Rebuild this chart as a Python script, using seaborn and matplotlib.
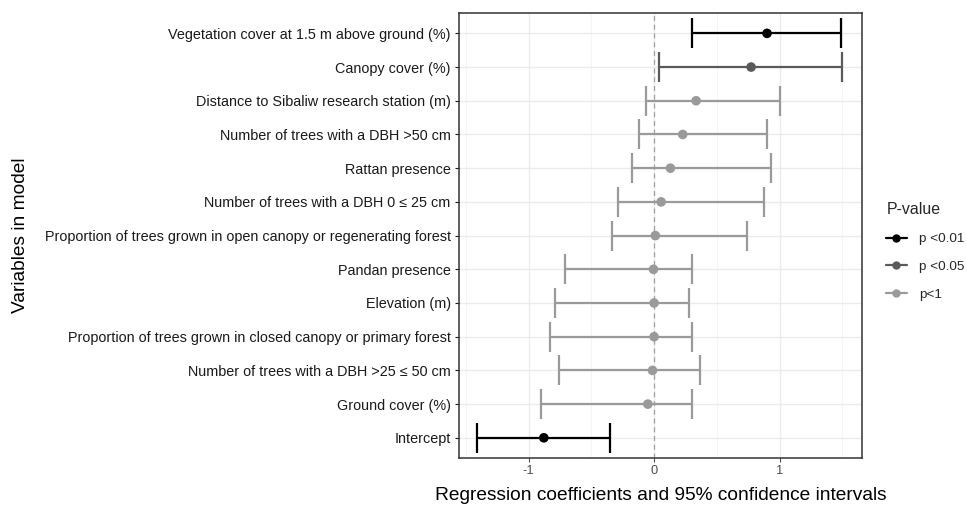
import numpy as np
import pandas as pd
import matplotlib
matplotlib.use("Agg")
import matplotlib.pyplot as plt
import seaborn as sns
from matplotlib.lines import Line2D

# --- data (top to bottom as drawn) ---
variables = [
    "Vegetation cover at 1.5 m above ground (%)",
    "Canopy cover (%)",
    "Distance to Sibaliw research station (m)",
    "Number of trees with a DBH >50 cm",
    "Rattan presence",
    "Number of trees with a DBH 0 \u2264 25 cm",
    "Proportion of trees grown in open canopy or regenerating forest",
    "Pandan presence",
    "Elevation (m)",
    "Proportion of trees grown in closed canopy or primary forest",
    "Number of trees with a DBH >25 \u2264 50 cm",
    "Ground cover (%)",
    "Intercept",
]
coef = [0.90, 0.773, 0.335, 0.228, 0.13, 0.056, 0.01, -0.005, 0.0, 0.0, -0.013, -0.05, -0.879]
ci_low = [0.305, 0.042, -0.064, -0.12, -0.18, -0.287, -0.332, -0.71, -0.79, -0.83, -0.757, -0.903, -1.413]
ci_high = [1.49, 1.50, 1.004, 0.898, 0.932, 0.879, 0.741, 0.305, 0.276, 0.305, 0.367, 0.305, -0.353]
pvalue = ["p <0.01", "p <0.05"] + ["p<1"] * 10 + ["p <0.01"]

levels = ["p <0.01", "p <0.05", "p<1"]
colors = {"p <0.01": "#000000", "p <0.05": "#5a5a5a", "p<1": "#9a9a9a"}

df = pd.DataFrame({"variable": variables, "coef": coef, "lo": ci_low,
                   "hi": ci_high, "pval": pvalue})
df["pos"] = np.arange(len(df))[::-1]

sns.set_theme(style="whitegrid")
plt.rcParams["font.family"] = ["Liberation Sans", "DejaVu Sans"]

fig = plt.figure(figsize=(9.67, 5.05), dpi=100)
ax = fig.add_axes([0.4747, 0.093, 0.4167, 0.881])

# reference line at zero
ax.axvline(0, color="#a0a0a0", linestyle=(0, (4, 3)), linewidth=0.9, zorder=1)

# confidence intervals
for lvl in levels:
    sub = df[df["pval"] == lvl]
    ax.errorbar(sub["coef"], sub["pos"],
                xerr=[sub["coef"] - sub["lo"], sub["hi"] - sub["coef"]],
                fmt="none", ecolor=colors[lvl], elinewidth=1.6,
                capsize=10.5, capthick=1.6, zorder=2)

sns.scatterplot(data=df, x="coef", y="pos", hue="pval", hue_order=levels,
                palette=colors, s=48, edgecolor="none", legend=False,
                ax=ax, zorder=3)

ax.set_xlim(-1.555, 1.657)
ax.set_ylim(-0.6, len(df) - 0.4)
ax.set_xticks([-1, 0, 1])
ax.set_xticklabels(["-1", "0", "1"])
ax.set_xticks([-1.5, -0.5, 0.5, 1.5], minor=True)
ax.set_yticks(df["pos"])
ax.set_yticklabels(df["variable"])

ax.grid(True, which="major", color="#ebebeb", linewidth=1.0)
ax.grid(True, which="minor", axis="x", color="#f2f2f2", linewidth=0.6)
ax.set_axisbelow(True)
for sp in ax.spines.values():
    sp.set_color("#333333")
    sp.set_linewidth(1.1)

ax.tick_params(axis="y", which="major", labelsize=10.4, colors="#1a1a1a",
               length=3, width=0.8, left=True, pad=3)
ax.tick_params(axis="x", which="major", labelsize=9.3, colors="#4d4d4d",
               length=3, width=0.8, bottom=True, pad=2)
ax.tick_params(axis="x", which="minor", length=0)
for t in ax.get_yticklabels():
    t.set_color("#1a1a1a")
for t in ax.get_xticklabels():
    t.set_color("#4d4d4d")

ax.set_xlabel("Regression coefficients and 95% confidence intervals",
              fontsize=13.8, color="black", labelpad=7)
ax.set_ylabel("")
fig.text(0.021, 0.535, "Variables in model", rotation=90, fontsize=13.8,
         color="black", ha="center", va="center")

handles = [Line2D([0], [0], color=colors[l], marker="o", markersize=5,
                  linewidth=1.6) for l in levels]
leg = fig.legend(handles, levels, title="P-value", loc="upper left",
                 bbox_to_anchor=(0.911, 0.61), frameon=False,
                 fontsize=9.7, title_fontsize=11.4, handlelength=1.5,
                 labelspacing=1.15, handletextpad=0.9, borderaxespad=0.0)
leg._legend_box.align = "left"

fig.savefig("out.png", dpi=100)
